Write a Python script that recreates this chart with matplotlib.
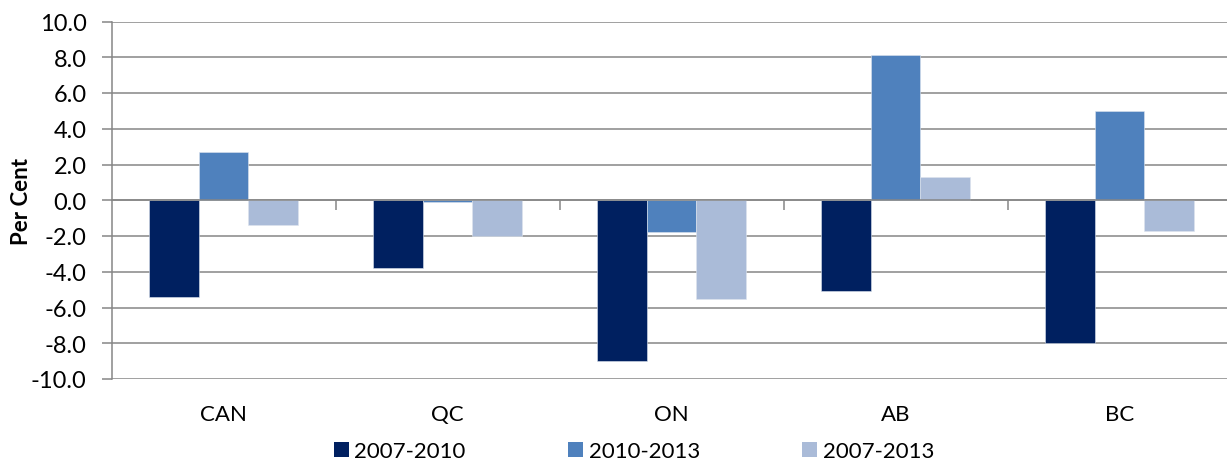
import matplotlib
matplotlib.use("Agg")
import matplotlib.pyplot as plt
import matplotlib.transforms as mtransforms
from matplotlib.patches import Patch
import numpy as np

plt.rcParams['font.family'] = ['Lato', 'DejaVu Sans']

categories = ["CAN", "QC", "ON", "AB", "BC"]
series_names = ["2007-2010", "2010-2013", "2007-2013"]
s_2007_2010 = [-5.4, -3.8, -9.0, -5.1, -8.0]
s_2010_2013 = [2.7, -0.1, -1.8, 8.1, 5.0]
s_2007_2013 = [-1.4, -2.0, -5.5, 1.3, -1.7]
colors = ["#002060", "#4F81BD", "#AABBD8"]
yticks = [-10, -8, -6, -4, -2, 0, 2, 4, 6, 8, 10]

FS = 16

fig = plt.figure(figsize=(12.27, 4.64), dpi=100)
ax = fig.add_axes([111.5 / 1227, 1 - 380 / 464, 1 - 111.5 / 1227, (380 - 22.5) / 464])

x = np.arange(len(categories))
w = 1 / 4.5
for k, vals in enumerate([s_2007_2010, s_2010_2013, s_2007_2013]):
    ax.bar(x + (k - 1) * w, vals, width=w, color=colors[k], zorder=3,
           edgecolor="#dde4ee", linewidth=0.4, label=series_names[k])

ax.set_ylim(-10, 10)
ax.set_xlim(-0.5, -0.5 + 1115.5 / 224)
ax.set_yticks(yticks)
ax.set_yticklabels([f"{v:.1f}" for v in yticks], fontsize=17)
ax.yaxis.grid(True, color="#868686", linewidth=1.1, zorder=1)
ax.set_axisbelow(True)

for s in ["top", "right"]:
    ax.spines[s].set_visible(False)
ax.spines["left"].set_color("#868686")
ax.spines["left"].set_linewidth(1.1)
ax.spines["bottom"].set_position(("data", 0))
ax.spines["bottom"].set_color("#868686")
ax.spines["bottom"].set_linewidth(1.1)
ax.spines["bottom"].set_zorder(4)

ax.tick_params(axis="y", length=7, color="#868686", width=1.1, pad=11)
ax.set_xticks(x[:-1] + 0.5)
ax.set_xticklabels([])
ax.tick_params(axis="x", length=7, color="#868686", width=1.1, direction="out")

trans = mtransforms.blended_transform_factory(ax.transData, fig.transFigure)
for i, c in enumerate(categories):
    ax.text(x[i], 1 - 415 / 464, c, transform=trans, ha="center", va="center", fontsize=FS)

fig.text(22 / 1227, 1 - 202 / 464, "Per Cent", rotation=90, ha="center", va="center",
         fontsize=FS, fontweight="bold")

handles = [Patch(facecolor=colors[k], edgecolor="none", label=series_names[k]) for k in range(3)]
fig.legend(handles=handles, loc="center", bbox_to_anchor=(634 / 1227, 1 - 452 / 464), ncol=3,
           frameon=False, fontsize=FS, handlelength=0.68, handleheight=0.68,
           handletextpad=0.25, columnspacing=4.6, borderpad=0, borderaxespad=0)

fig.savefig("out.png", dpi=100)
